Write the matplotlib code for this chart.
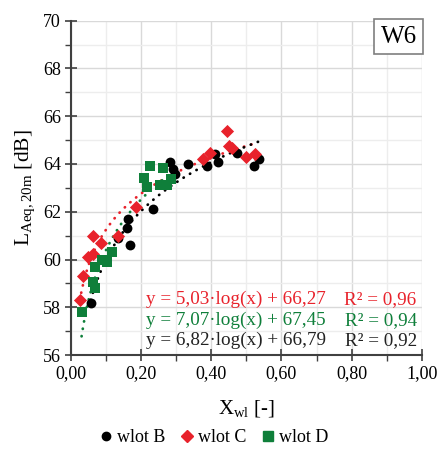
import numpy as np
import matplotlib
matplotlib.use('Agg')
import matplotlib.pyplot as plt
from matplotlib.ticker import MultipleLocator, FuncFormatter
from matplotlib.lines import Line2D

plt.rcParams['font.family'] = ['Liberation Serif', 'DejaVu Serif']
plt.rcParams['mathtext.fontset'] = 'custom'
plt.rcParams['mathtext.rm'] = 'Liberation Serif'
plt.rcParams['mathtext.it'] = 'Liberation Serif:italic'

# wlot B
xB = [0.057, 0.135, 0.159, 0.162, 0.169, 0.234, 0.284, 0.292, 0.296, 0.334,
      0.389, 0.410, 0.420, 0.474, 0.522, 0.537]
yB = [58.2, 60.9, 61.3, 61.7, 60.6, 62.1, 64.1, 63.8, 63.6, 64.0,
      63.9, 64.4, 64.1, 64.45, 63.9, 64.2]
# wlot C
xC = [0.026, 0.034, 0.048, 0.063, 0.064, 0.087, 0.134, 0.187, 0.377, 0.396,
      0.445, 0.452, 0.458, 0.500, 0.524]
yC = [58.3, 59.3, 60.1, 60.25, 61.0, 60.7, 61.0, 62.2, 64.2, 64.45,
      65.4, 64.75, 64.65, 64.3, 64.4]
# wlot D
xD = [0.031, 0.064, 0.069, 0.069, 0.090, 0.102, 0.117, 0.208, 0.216, 0.225,
      0.254, 0.263, 0.273, 0.287]
yD = [57.8, 59.07, 58.8, 59.7, 60.0, 59.88, 60.3, 63.4, 63.02, 63.9,
      63.12, 63.82, 63.12, 63.37]

# wspolczynniki trendu y = a*log(x) + b, R2
fitB = (6.82, 66.79, 0.92)
fitC = (5.03, 66.27, 0.96)
fitD = (7.07, 67.45, 0.94)

RED = '#E8222B'
GREEN = '#0F7F3A'
BLACK = '#000000'

fig = plt.figure(figsize=(4.46, 4.5), dpi=100)
ax = fig.add_axes([0.1585, 0.211, 0.7875, 0.743])

ax.set_xlim(0, 1)
ax.set_ylim(56, 70)
ax.xaxis.set_major_locator(MultipleLocator(0.2))
ax.xaxis.set_minor_locator(MultipleLocator(0.1))
ax.yaxis.set_major_locator(MultipleLocator(2))
ax.yaxis.set_minor_locator(MultipleLocator(1))
ax.xaxis.set_major_formatter(FuncFormatter(lambda v, p: ('%.2f' % v).replace('.', ',')))
ax.yaxis.set_major_formatter(FuncFormatter(lambda v, p: '%d' % v))

ax.grid(which='major', color='#D9D9D9', linewidth=1.0, zorder=0)
ax.grid(which='minor', color='#EDEDED', linewidth=1.0, zorder=0)
ax.set_axisbelow(True)
for s in ['top', 'right']:
    ax.spines[s].set_visible(False)
for s in ['left', 'bottom']:
    ax.spines[s].set_color('#404040')
    ax.spines[s].set_linewidth(1.5)
ax.tick_params(which='major', direction='inout', length=8, width=1.2, color='#404040',
               labelsize=13, pad=3)
ax.tick_params(which='minor', direction='out', length=4, width=1.0, color='#404040')


def trend(xs, fit, color):
    a, b, r2 = fit
    xx = np.linspace(min(xs), max(xs), 200)
    ax.plot(xx, a * np.log10(xx) + b, color=color, linewidth=2.0,
            linestyle=(0, (0.1, 2.6)), dash_capstyle='round', zorder=2)


ax.scatter(xB, yB, marker='o', s=50, color=BLACK, zorder=3, linewidths=0)
ax.scatter(xC, yC, marker='D', s=45, color=RED, zorder=3, linewidths=0)
ax.scatter(xD, yD, marker='s', s=55, color=GREEN, zorder=3, linewidths=0)
trend(xC, fitC, RED)
trend(xD, fitD, GREEN)
trend(xB, fitB, BLACK)

rows = [(fitC, RED, 0.166), (fitD, GREEN, 0.103), (fitB, '#222222', 0.043)]
for fit, col, yy in rows:
    a, b, r2 = fit
    eq = 'y = %s·log(x) + %s' % (('%.2f' % a).replace('.', ','), ('%.2f' % b).replace('.', ','))
    ax.text(0.214, yy, eq, transform=ax.transAxes, color=col, fontsize=13.8,
            ha='left', va='center', zorder=4)
    ax.text(0.985, yy, 'R² = %s' % ('%.2f' % r2).replace('.', ','), transform=ax.transAxes,
            color=col, fontsize=13.8, ha='right', va='center', zorder=4)

ax.text(0.985, 0.985, 'W6', transform=ax.transAxes, fontsize=18, ha='right', va='top',
        bbox=dict(boxstyle='square,pad=0.25', facecolor='white', edgecolor='#7F7F7F',
                  linewidth=1.2), zorder=5)

ax.set_ylabel(r'$\mathrm{L_{Aeq,20m}}$ [dB]', fontsize=15.5, labelpad=4)
ax.set_xlabel(r'$\mathrm{X_{wl}}$ [-]', fontsize=15, labelpad=12)

handles = [
    Line2D([], [], marker='o', linestyle='', color=BLACK, markersize=6),
    Line2D([], [], marker='D', linestyle='', color=RED, markersize=6),
    Line2D([], [], marker='s', linestyle='', color=GREEN, markersize=6.5),
]
fig.legend(handles, ['wlot B', 'wlot C', 'wlot D'], loc='center', ncol=3,
           bbox_to_anchor=(0.475, 0.027), frameon=False, fontsize=13,
           handletextpad=0.0, columnspacing=0.6, handlelength=1.2)

fig.savefig('out.png', dpi=100)
